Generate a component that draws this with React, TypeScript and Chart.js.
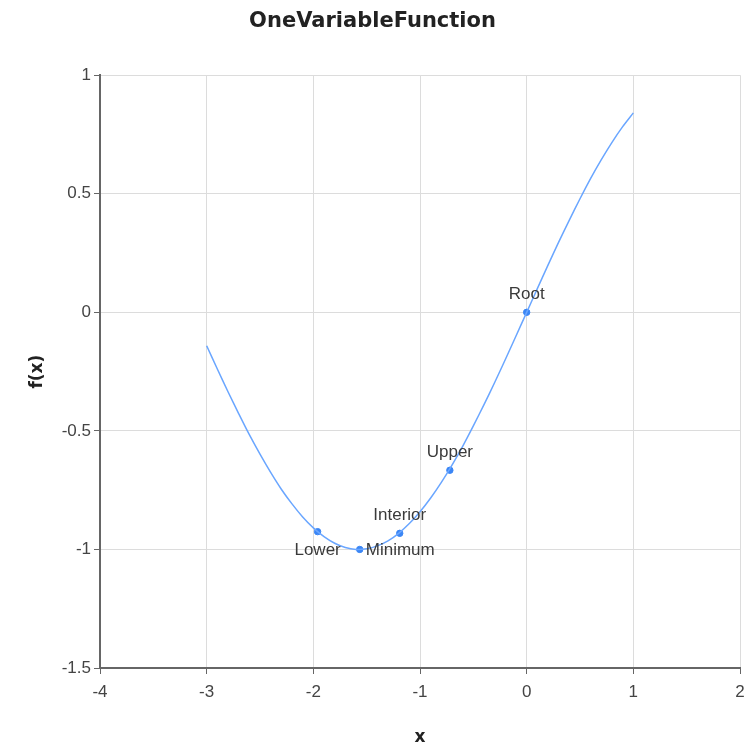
import React, { useEffect, useRef } from "react";
import { Chart, registerables } from "chart.js";

Chart.register(...registerables);

const curveX = [-3, -2.9, -2.8, -2.7, -2.6, -2.5, -2.4, -2.3, -2.2, -2.1, -2.0, -1.9, -1.8, -1.7, -1.6, -1.5, -1.4, -1.3, -1.2, -1.1, -1.0, -0.9, -0.8, -0.7, -0.6, -0.5, -0.4, -0.3, -0.2, -0.1, 0, 0.1, 0.2, 0.3, 0.4, 0.5, 0.6, 0.7, 0.8, 0.9, 1.0];
const curveY = [-0.141, -0.239, -0.335, -0.427, -0.516, -0.598, -0.675, -0.746, -0.808, -0.863, -0.909, -0.946, -0.974, -0.992, -1.0, -0.997, -0.985, -0.964, -0.932, -0.891, -0.841, -0.783, -0.717, -0.644, -0.565, -0.479, -0.389, -0.296, -0.199, -0.1, 0, 0.1, 0.199, 0.296, 0.389, 0.479, 0.565, 0.644, 0.717, 0.783, 0.841];

const markerLabels = ["Lower", "Minimum", "Interior", "Upper", "Root"];
const markerX = [-1.96, -1.565, -1.19, -0.72, 0];
const markerY = [-0.925, -1.0, -0.932, -0.666, 0];
const markerLabelPos = ["below", "right", "above", "above", "above"];

const xTicks = [-4, -3, -2, -1, 0, 1, 2];
const yTicks = [-1.5, -1, -0.5, 0, 0.5, 1];

const labelPlugin = {
  id: "markerLabels",
  afterDatasetsDraw(chart: any) {
    const ctx = chart.ctx;
    const xs = chart.scales.x;
    const ys = chart.scales.y;
    ctx.save();
    ctx.font = "17px 'Liberation Sans', Arial, sans-serif";
    ctx.fillStyle = "#3a3a3a";
    markerLabels.forEach((lbl, i) => {
      const px = xs.getPixelForValue(markerX[i]);
      const py = ys.getPixelForValue(markerY[i]);
      const pos = markerLabelPos[i];
      ctx.textBaseline = "middle";
      if (pos === "above") {
        ctx.textAlign = "center";
        ctx.fillText(lbl, px, py - 18);
      } else if (pos === "below") {
        ctx.textAlign = "center";
        ctx.fillText(lbl, px, py + 19);
      } else {
        ctx.textAlign = "left";
        ctx.fillText(lbl, px + 6, py + 1);
      }
    });
    ctx.restore();
  },
};

const tickFont = { family: "'Liberation Sans', Arial, sans-serif", size: 17 };
const axisTitleFont = { family: "'DejaVu Sans', Verdana, sans-serif", size: 17, weight: "bold" };

export default function App() {
  const ref = useRef<HTMLCanvasElement>(null);
  useEffect(() => {
    document.body.style.margin = "0";
    const chart = new Chart(ref.current as HTMLCanvasElement, {
      type: "scatter",
      data: {
        datasets: [
          {
            data: curveX.map((x, i) => ({ x, y: curveY[i] })),
            showLine: true,
            borderColor: "#6aa6ff",
            borderWidth: 1.5,
            pointRadius: 0,
            tension: 0.3,
          },
          {
            data: markerX.map((x, i) => ({ x, y: markerY[i] })),
            showLine: false,
            pointRadius: 3.2,
            backgroundColor: "#3b86f5",
            borderColor: "#3b86f5",
          },
        ],
      },
      options: {
        animation: false,
        responsive: false,
        layout: { padding: { left: 0, right: 0, top: 0, bottom: 0 } },
        plugins: {
          legend: { display: false },
          tooltip: { enabled: false },
          title: {
            display: true,
            text: "OneVariableFunction",
            color: "#222",
            font: { family: "'DejaVu Sans', Verdana, sans-serif", size: 21, weight: "bold" },
            padding: { top: 9, bottom: 41 },
          },
        },
        scales: {
          x: {
            type: "linear",
            min: -4,
            max: 2,
            afterBuildTicks: (s: any) => { s.ticks = xTicks.map((v) => ({ value: v })); },
            afterFit: (s: any) => { s.height = 80; s.paddingRight = 5; s.paddingLeft = 0; },
            border: { color: "#666", width: 2 },
            grid: { color: "#dcdcdc", tickLength: 6, tickColor: "#666" },
            ticks: { color: "#444", font: tickFont, padding: 8, maxRotation: 0, callback: (v: any) => String(v) },
            title: { display: true, text: "x", color: "#222", font: axisTitleFont, padding: { top: 10, bottom: 0 } },
          },
          y: {
            type: "linear",
            min: -1.5,
            max: 1,
            afterBuildTicks: (s: any) => { s.ticks = yTicks.map((v) => ({ value: v })); },
            afterFit: (s: any) => { s.width = 100; },
            border: { color: "#666", width: 2 },
            grid: { color: "#dcdcdc", tickLength: 6, tickColor: "#666" },
            ticks: { color: "#444", font: tickFont, padding: 3, callback: (v: any) => String(v) },
            title: { display: true, text: "f(x)", color: "#222", font: axisTitleFont, padding: { top: 27, bottom: 10 } },
          },
        },
      },
      plugins: [labelPlugin],
    } as any);
    return () => chart.destroy();
  }, []);
  return (
    <div style={{ position: "absolute", left: 0, top: 0, width: 745, height: 748 }}>
      <canvas ref={ref} width={745} height={748} />
    </div>
  );
}
